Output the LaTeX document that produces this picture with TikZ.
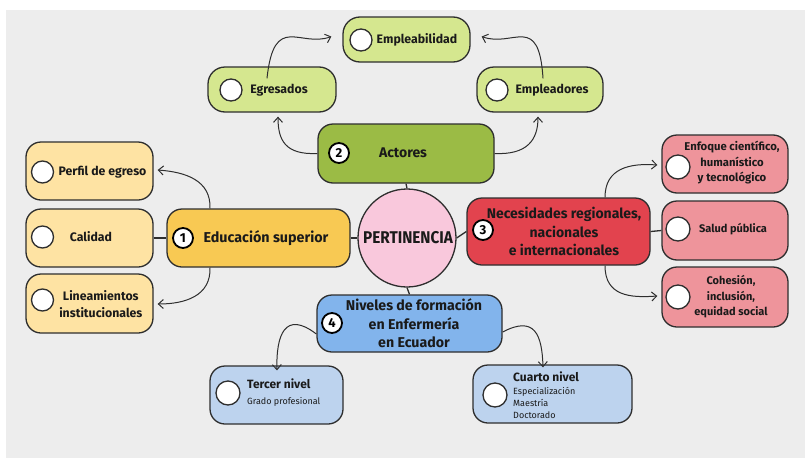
\documentclass[tikz,border=0pt]{standalone}
\usepackage{fontspec}
\setmainfont{Fira Sans}
\usetikzlibrary{arrows.meta}
\definecolor{bg}{HTML}{EDEDED}
\definecolor{edge}{HTML}{2E2E2E}
\definecolor{ink}{HTML}{1A1A1A}
\definecolor{lgreen}{HTML}{D5E78F}
\definecolor{olive}{HTML}{9BBB45}
\definecolor{gold}{HTML}{F8C953}
\definecolor{lyellow}{HTML}{FEE3A3}
\definecolor{pink}{HTML}{F9C8DC}
\definecolor{red}{HTML}{E2434E}
\definecolor{lred}{HTML}{EE949B}
\definecolor{blue}{HTML}{82B4EC}
\definecolor{lblue}{HTML}{BDD3EE}
\newcommand{\fs}[2]{\fontsize{#1}{#2}\selectfont}
\begin{document}
\begin{tikzpicture}[x=1pt,y=-1pt,
  box/.style={draw=edge, line width=1.3pt, rounded corners=17pt, inner sep=0pt},
  dot/.style={circle, draw=edge, fill=white, line width=1.3pt, minimum size=22pt, inner sep=0pt},
  num/.style={circle, draw=black, fill=white, line width=1.8pt, minimum size=20pt, inner sep=0pt, font=\bfseries\fs{13}{13}},
  txt/.style={inner sep=0pt, text=ink, align=center, font=\bfseries\fs{12.3}{14}},
  rtxt/.style={inner sep=0pt, text=ink, align=center, font=\bfseries\fs{11}{13}},
  small/.style={inner sep=0pt, text=ink, align=left, font=\fs{9}{12}},
  arr/.style={draw=edge, line width=1pt, -{Straight Barb[length=5pt,width=9pt]}},
  link/.style={draw=edge, line width=1.3pt}]
\useasboundingbox (0,0) rectangle (805,458);
\fill[white] (0,0) rectangle (805,458);
\fill[bg] (6,10) rectangle (805,458);

% top group
\node[box, fill=lgreen, minimum width=127pt, minimum height=45pt] (emp) at (406.5,39.5) {};
\node[box, fill=lgreen, minimum width=128pt, minimum height=45pt] (egr) at (272,89.5) {};
\node[box, fill=lgreen, minimum width=126pt, minimum height=45pt] (empl) at (540,89.5) {};
\node[box, fill=olive, minimum width=176pt, minimum height=59pt, rounded corners=15pt] (act) at (406,153.5) {};

% center
\node[circle, draw=edge, line width=1.3pt, fill=pink, minimum size=98pt, inner sep=0pt] (pert) at (407,238) {};

% left
\node[box, fill=gold, minimum width=183pt, minimum height=58pt, rounded corners=15pt] (edu) at (258.5,238) {};
\node[box, fill=lyellow, minimum width=127pt, minimum height=58pt, rounded corners=15pt] (perf) at (89.5,171) {};
\node[box, fill=lyellow, minimum width=127pt, minimum height=58pt, rounded corners=15pt] (cal) at (89.5,238) {};
\node[box, fill=lyellow, minimum width=127pt, minimum height=59pt, rounded corners=15pt] (lin) at (89.5,303.5) {};

% right
\node[box, fill=red, minimum width=183pt, minimum height=67pt, rounded corners=15pt] (nec) at (558.5,231.5) {};
\node[box, fill=lred, minimum width=126pt, minimum height=58pt, rounded corners=15pt] (enf) at (725,164) {};
\node[box, fill=lred, minimum width=126pt, minimum height=59pt, rounded corners=15pt] (sal) at (725,230.5) {};
\node[box, fill=lred, minimum width=126pt, minimum height=60pt, rounded corners=15pt] (coh) at (725,297) {};

% bottom
\node[box, fill=blue, minimum width=185pt, minimum height=57pt, rounded corners=15pt] (niv) at (409.5,323.5) {};
\node[box, fill=lblue, minimum width=133pt, minimum height=58pt, rounded corners=15pt] (ter) at (276.5,395) {};
\node[box, fill=lblue, minimum width=159pt, minimum height=58pt, rounded corners=15pt] (cua) at (552.5,394) {};

% straight links
\draw[link] (act.south) -- (pert.north);
\draw[link] (pert.south) -- (niv.north);
\draw[link] (edu.east) -- (pert.west);
\draw[link] (pert.east) -- (nec.west);
\draw[link] (cal.east) -- (edu.west);
\draw[link] (nec.east) -- (sal.west);

% curved arrows
\draw[arr] ([xshift=-5pt,yshift=-12pt]egr.north) .. controls (274,12) and (300,48) .. ([xshift=-11pt,yshift=3pt]emp.west);
\draw[arr] ([xshift=3pt,yshift=-12pt]empl.north) .. controls (539,12) and (513,48) .. ([xshift=11pt,yshift=3pt]emp.east);
\draw[arr] (act.west) .. controls (285,155) and (278,140) .. ([xshift=6pt,yshift=-4pt]egr.south);
\draw[arr] (act.east) .. controls (527,155) and (538,140) .. ([xshift=-2pt,yshift=-4pt]empl.south);
\draw[arr] ([xshift=-48.5pt]edu.north) .. controls (211,180) and (185,172) .. ([xshift=4pt,yshift=1pt]perf.east);
\draw[arr] ([xshift=-48.5pt]edu.south) .. controls (211,296) and (185,304) .. ([xshift=4pt,yshift=-0.5pt]lin.east);
\draw[arr] ([xshift=46.5pt]nec.north) .. controls (605,168) and (630,163) .. ([xshift=-4pt,yshift=-1pt]enf.west);
\draw[arr] ([xshift=46.5pt]nec.south) .. controls (605,296) and (630,298) .. ([xshift=-4pt,yshift=1pt]coh.west);
\draw[arr] ([yshift=-10.5pt]niv.west) .. controls (285,310) and (276,335) .. ([xshift=0.5pt,yshift=-5pt]ter.north);
\draw[arr] ([yshift=-8.5pt]niv.east) .. controls (535,315) and (542,335) .. ([xshift=-9.5pt,yshift=-3pt]cua.north);

% white dots
\node[dot] (d1) at (361,40) {};
\node[dot] (d2) at (231,90) {};
\node[dot] (d3) at (497,90) {};
\node[dot] (d4) at (42.5,172) {};
\node[dot] (d5) at (42.5,237) {};
\node[dot] (d6) at (42.5,300) {};
\node[dot, minimum size=24pt] (d7) at (678,167) {};
\node[dot, minimum size=24pt] (d8) at (678,229) {};
\node[dot, minimum size=24pt] (d9) at (678,297) {};
\node[dot, minimum size=24pt] (d10) at (228,393) {};
\node[dot, minimum size=24pt] (d11) at (495,395) {};

% numbers
\node[num] (n1) at (183,238) {1};
\node[num] (n2) at (339,153) {2};
\node[num] (n3) at (483,230) {3};
\node[num] (n4) at (332,323) {4};

% texts
\node[txt] (t1) at (417,40) {Empleabilidad};
\node[txt] (t2) at (279,90) {Egresados};
\node[txt] (t3) at (552,90) {Empleadores};
\node[txt, font=\bfseries\fs{14}{16}] (t4) at (403,153) {Actores};
\node[txt, font=\bfseries\fs{17}{19}] (t5) at (408,238) {\scalebox{0.9}[1]{PERTINENCIA}};
\node[txt, font=\bfseries\fs{14.3}{16}] (t6) at (266,238) {Educación superior};
\node[txt] (t7) at (102.5,172) {Perfil de egreso};
\node[txt] (t8) at (91,237) {Calidad};
\node[txt, font=\bfseries\fs{12.3}{17}] (t9) at (100.8,304.5) {Lineamientos\\institucionales};
\node[txt, font=\bfseries\fs{14}{18.5}] (t10) at (564,231.5) {Necesidades regionales,\\nacionales\\e internacionales};
\node[rtxt, font=\bfseries\fs{11.3}{15.5}] (t11) at (732,163) {Enfoque científico,\\humanístico\\y tecnológico};
\node[rtxt] (t12) at (733,229) {Salud pública};
\node[rtxt, font=\bfseries\fs{11}{15.5}] (t13) at (731,297) {Cohesión,\\inclusión,\\equidad social};
\node[txt, font=\bfseries\fs{14.2}{18.5}] (t14) at (414,323.5) {Niveles de formación\\en Enfermería\\en Ecuador};
\node[txt, anchor=west, font=\bfseries\fs{12}{14}] (t15) at (247,384) {Tercer nivel};
\node[small, anchor=west] (t16) at (247,402) {Grado profesional};
\node[txt, anchor=west, font=\bfseries\fs{12}{14}] (t17) at (513,377) {Cuarto nivel};
\node[small, anchor=west] (t18) at (513,403) {Especialización\\Maestría\\Doctorado};
\end{tikzpicture}
\end{document}
